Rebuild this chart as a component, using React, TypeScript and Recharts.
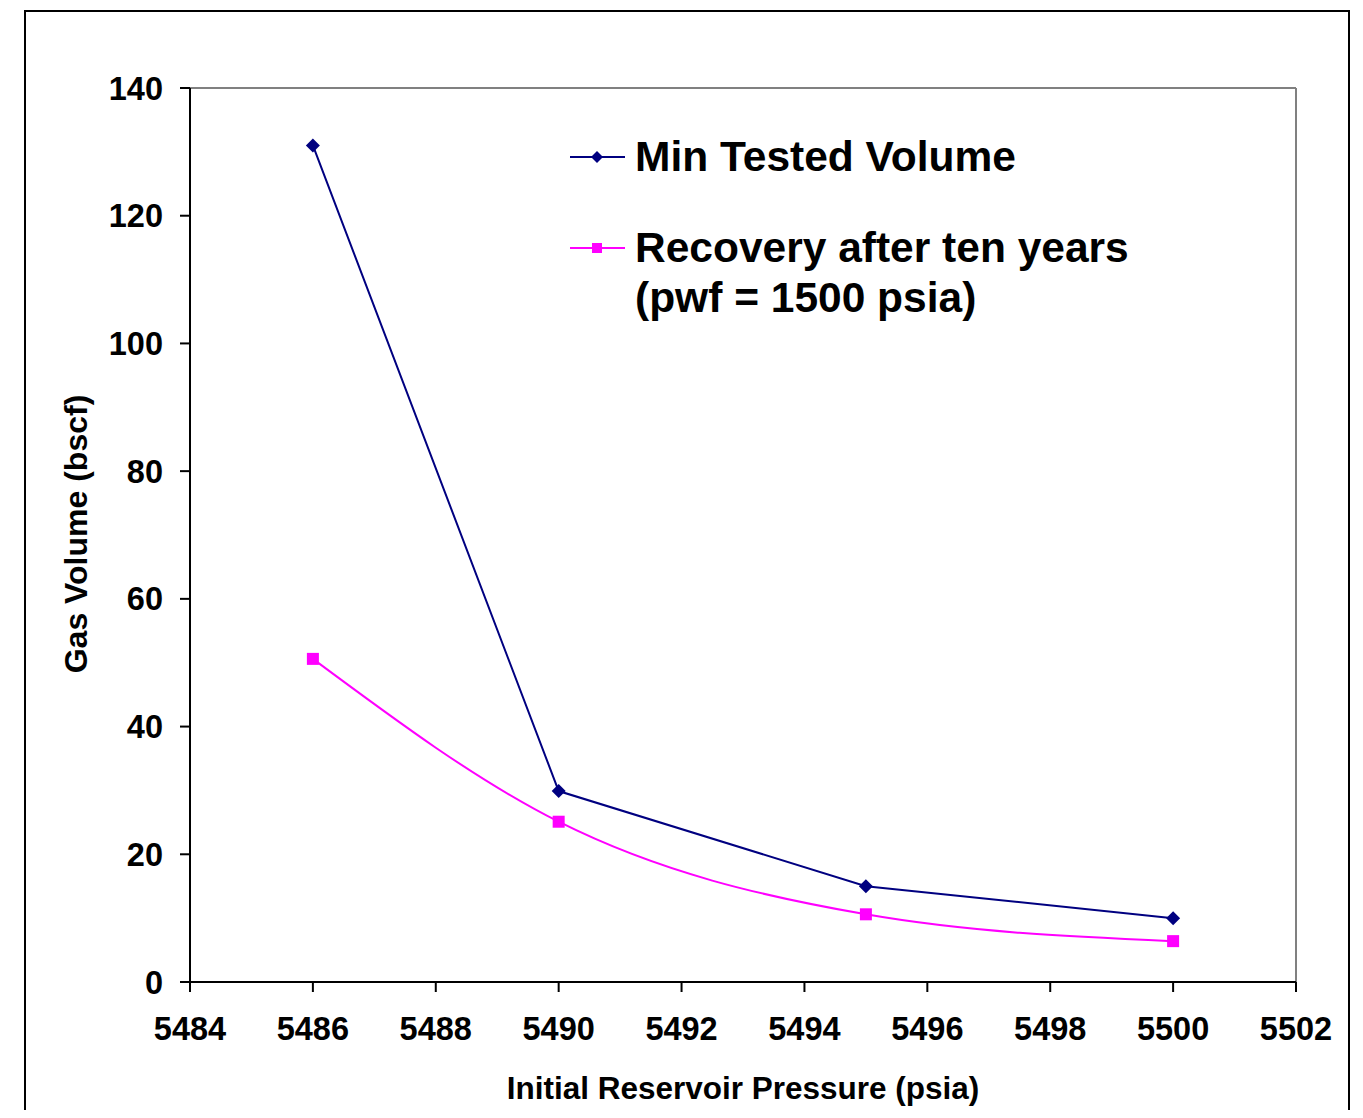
import {
  Legend,
  Line,
  LineChart,
  ReferenceLine,
  XAxis,
  YAxis,
} from "recharts";

const pressures = [5486, 5490, 5495, 5500];
const minTestedVolume = [131, 29.9, 15, 10];
const recoveryTenYears = [50.6, 25.1, 10.6, 6.4];

const xTicks = [5484, 5486, 5488, 5490, 5492, 5494, 5496, 5498, 5500, 5502];
const yTicks = [0, 20, 40, 60, 80, 100, 120, 140];

const NAVY = "#000080";
const MAGENTA = "#FF00FF";
const FONT = '"Liberation Sans", Arial, sans-serif';

const data = pressures.map((p, i) => ({
  pressure: p,
  minTested: minTestedVolume[i],
  recovery: recoveryTenYears[i],
}));

const Diamond = (props: any) => {
  const { cx, cy, index } = props;
  if (cx == null || cy == null) return <g key={`d-${index}`} />;
  const r = 7;
  return (
    <path
      key={`d-${index}`}
      d={`M${cx},${cy - r}L${cx + r},${cy}L${cx},${cy + r}L${cx - r},${cy}Z`}
      fill={NAVY}
    />
  );
};

const Square = (props: any) => {
  const { cx, cy, index } = props;
  if (cx == null || cy == null) return <g key={`s-${index}`} />;
  const r = 6;
  return (
    <rect key={`s-${index}`} x={cx - r} y={cy - r} width={r * 2} height={r * 2} fill={MAGENTA} />
  );
};

const LegendBox = () => {
  const textStyle = {
    fontFamily: FONT,
    fontWeight: 700,
    fontSize: 42.5,
    lineHeight: "50px",
    color: "#000",
    whiteSpace: "nowrap" as const,
  };
  return (
    <div style={{ display: "flex", flexDirection: "column", gap: 41 }}>
      <div style={{ display: "flex", alignItems: "flex-start" }}>
        <svg width={55} height={50} style={{ marginRight: 10, flexShrink: 0 }}>
          <line x1={0} y1={25} x2={55} y2={25} stroke={NAVY} strokeWidth={2} />
          <path d="M27,19L33,25L27,31L21,25Z" fill={NAVY} />
        </svg>
        <span style={textStyle}>Min Tested Volume</span>
      </div>
      <div style={{ display: "flex", alignItems: "flex-start" }}>
        <svg width={55} height={50} style={{ marginRight: 10, flexShrink: 0 }}>
          <line x1={0} y1={25} x2={55} y2={25} stroke={MAGENTA} strokeWidth={2} />
          <rect x={22} y={20} width={10} height={10} fill={MAGENTA} />
        </svg>
        <span style={textStyle}>
          Recovery after ten years
          <br />
          (pwf = 1500 psia)
        </span>
      </div>
    </div>
  );
};

const XTitle = (props: any) => {
  const { viewBox } = props;
  return (
    <text
      x={viewBox.x + viewBox.width / 2}
      y={viewBox.y + 117}
      textAnchor="middle"
      fontFamily={FONT}
      fontWeight={700}
      fontSize={31.5}
      fill="#000"
    >
      Initial Reservoir Pressure (psia)
    </text>
  );
};

const YTitle = (props: any) => {
  const { viewBox } = props;
  const cx = 79;
  const cy = viewBox.y + viewBox.height / 2 - 1;
  return (
    <text
      x={cx}
      y={cy}
      transform={`rotate(-90, ${cx}, ${cy})`}
      textAnchor="middle"
      fontFamily={FONT}
      fontWeight={700}
      fontSize={32}
      fill="#000"
    >
      Gas Volume (bscf)
    </text>
  );
};

const tickStyle = {
  fontFamily: FONT,
  fontWeight: 700,
  fontSize: 32.5,
  fill: "#000",
};

export default function App() {
  return (
    <div
      style={{
        position: "relative",
        width: 1347,
        height: 1102,
        overflow: "hidden",
        background: "#fff",
      }}
    >
      <div
        style={{
          position: "absolute",
          left: 16,
          top: 2,
          width: 1326,
          height: 1130,
          border: "2px solid #000",
          boxSizing: "border-box",
        }}
      />
      <LineChart
        width={1347}
        height={1102}
        data={data}
        margin={{ top: 80, right: 59, left: 0, bottom: 0 }}
        style={{ position: "absolute", left: 0, top: 0 }}
      >
        <XAxis
          dataKey="pressure"
          type="number"
          domain={[5484, 5502]}
          ticks={xTicks}
          interval={0}
          height={128}
          axisLine={{ stroke: "#000", strokeWidth: 2 }}
          tickLine={{ stroke: "#000", strokeWidth: 2 }}
          tickSize={10}
          tickMargin={25}
          tick={tickStyle}
          label={<XTitle />}
        />
        <YAxis
          type="number"
          domain={[0, 140]}
          ticks={yTicks}
          interval={0}
          width={182}
          axisLine={{ stroke: "#000", strokeWidth: 2 }}
          tickLine={{ stroke: "#000", strokeWidth: 2 }}
          tickSize={10}
          tickMargin={17}
          tick={tickStyle}
          label={<YTitle />}
        />
        <ReferenceLine y={140} stroke="#808080" strokeWidth={2} />
        <ReferenceLine x={5502} stroke="#808080" strokeWidth={2} />
        <Legend
          layout="horizontal"
          verticalAlign="middle"
          align="center"
          content={<LegendBox />}
          wrapperStyle={{ left: 562, top: 124, width: 640, height: 230 }}
        />
        <Line
          type="linear"
          dataKey="minTested"
          stroke={NAVY}
          strokeWidth={2}
          dot={Diamond}
          activeDot={false}
          isAnimationActive={false}
        />
        <Line
          type="monotone"
          dataKey="recovery"
          stroke={MAGENTA}
          strokeWidth={2}
          dot={Square}
          activeDot={false}
          isAnimationActive={false}
        />
      </LineChart>
    </div>
  );
}
